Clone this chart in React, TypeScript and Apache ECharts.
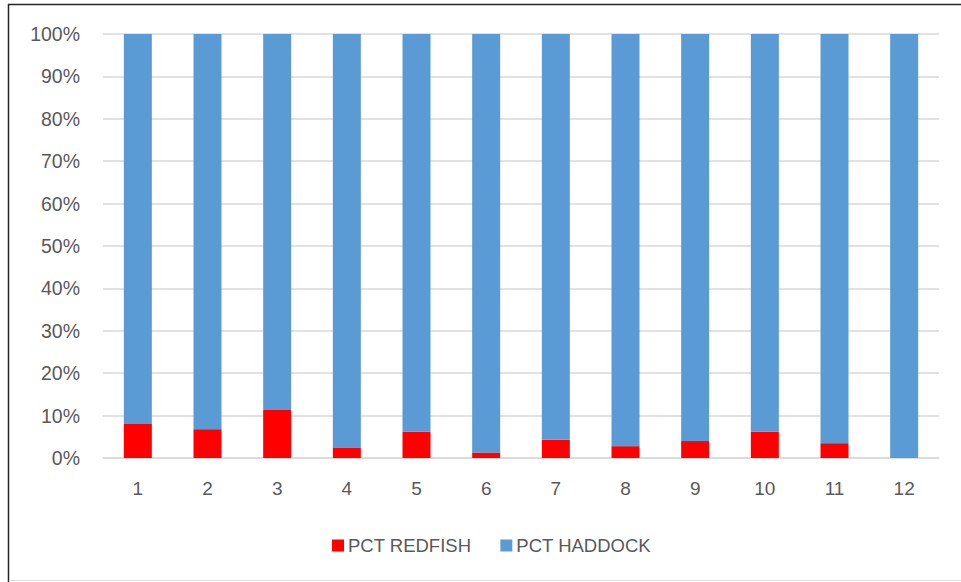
import React, { useEffect, useRef } from "react";
import * as echarts from "echarts";

const categories = ["1", "2", "3", "4", "5", "6", "7", "8", "9", "10", "11", "12"];
const pctRedfish = [8.0, 6.8, 11.3, 2.5, 6.2, 1.3, 4.3, 2.8, 4.0, 6.2, 3.5, 0];
const pctHaddock = pctRedfish.map((v) => +(100 - v).toFixed(1));
const seriesNames = ["PCT REDFISH", "PCT HADDOCK"];
const colors = ["#ff0000", "#5b9bd5"];

export default function App() {
  const ref = useRef<HTMLDivElement>(null);
  useEffect(() => {
    if (!ref.current) return;
    const chart = echarts.init(ref.current, null, { renderer: "svg" });
    const font = "'Liberation Sans', Arial, sans-serif";
    chart.setOption({
      animation: false,
      backgroundColor: "#ffffff",
      textStyle: { fontFamily: font },
      grid: { left: 103, right: 22, top: 34, bottom: 124, containLabel: false },
      legend: {
        data: seriesNames,
        left: 327,
        top: 531,
        itemWidth: 12,
        itemHeight: 12,
        itemGap: 29,
        icon: "rect",
        textStyle: { fontSize: 18.5, color: "#595959", fontFamily: font, padding: [0, 0, 0, -1] },
      },
      xAxis: {
        type: "category",
        data: categories,
        axisLine: { show: true, lineStyle: { color: "#d9d9d9", width: 1.5 } },
        axisTick: { show: false },
        axisLabel: { fontSize: 19, color: "#595959", margin: 21, fontFamily: font },
      },
      yAxis: {
        type: "value",
        min: 0,
        max: 100,
        interval: 10,
        axisLine: { show: false },
        axisTick: { show: false },
        splitLine: { lineStyle: { color: "#d9d9d9", width: 1.5 } },
        axisLabel: { fontSize: 19.5, color: "#595959", margin: 23, formatter: "{value}%", fontFamily: font },
      },
      series: [
        {
          name: seriesNames[0],
          type: "bar",
          stack: "total",
          barWidth: 28,
          data: pctRedfish,
          itemStyle: { color: colors[0] },
        },
        {
          name: seriesNames[1],
          type: "bar",
          stack: "total",
          barWidth: 28,
          data: pctHaddock,
          itemStyle: { color: colors[1] },
        },
      ],
      graphic: [
        { type: "line", shape: { x1: 8, y1: 4.5, x2: 961, y2: 4.5 }, style: { stroke: "#262626", lineWidth: 1.5 } },
        { type: "line", shape: { x1: 8.5, y1: 4, x2: 8.5, y2: 582 }, style: { stroke: "#262626", lineWidth: 1.5 } },
        { type: "line", shape: { x1: 9, y1: 580.5, x2: 961, y2: 580.5 }, style: { stroke: "#e0e0e0", lineWidth: 1 } },
      ],
    });
    return () => chart.dispose();
  }, []);
  return (
    <div
      ref={ref}
      style={{ position: "fixed", left: 0, top: 0, width: 961, height: 582 }}
    />
  );
}
